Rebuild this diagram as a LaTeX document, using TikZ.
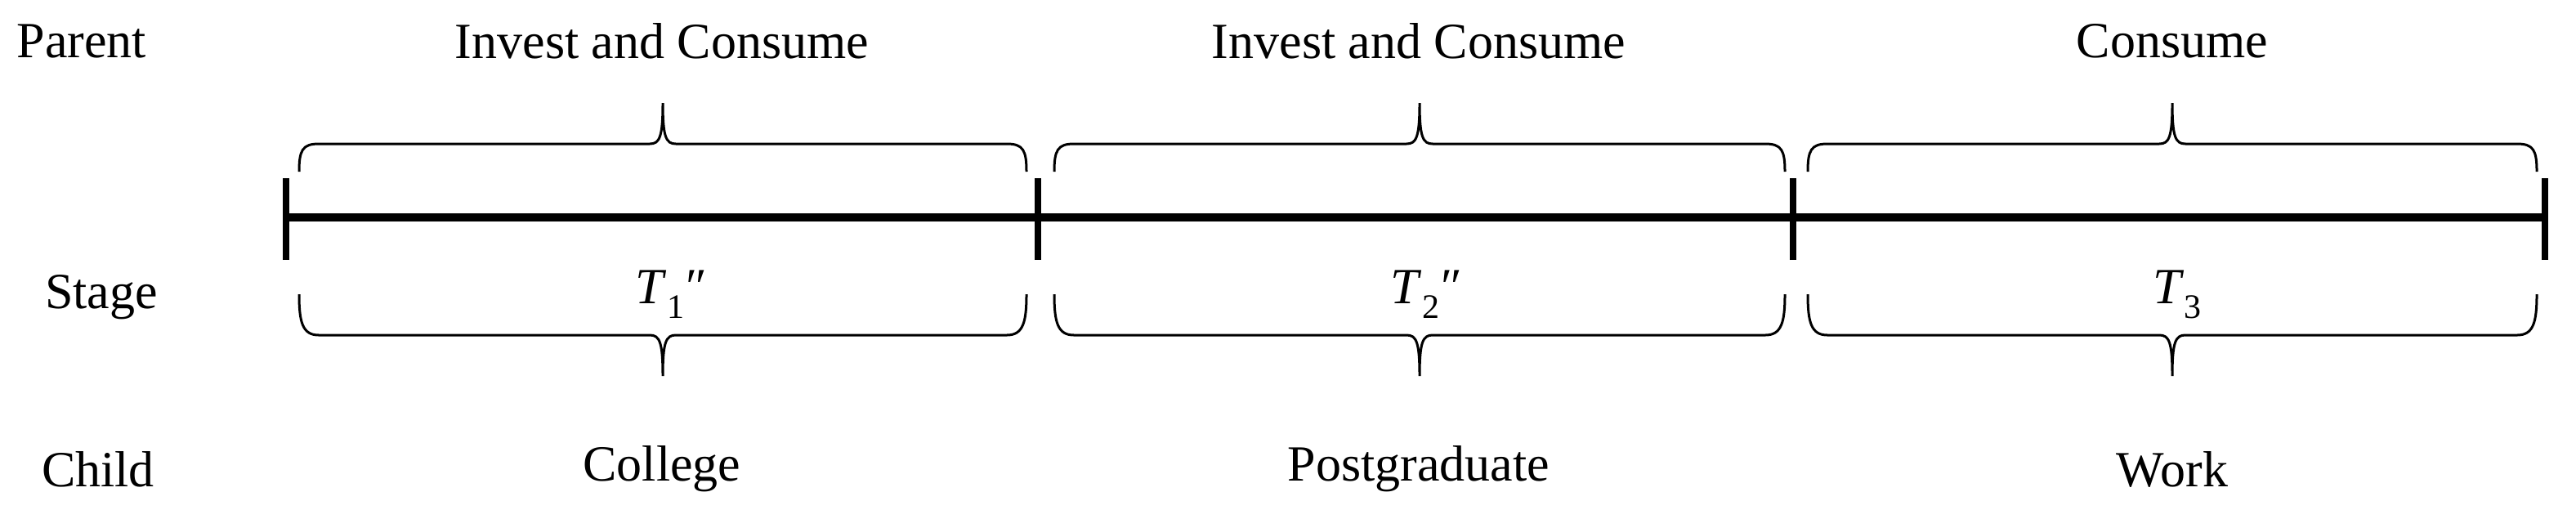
\documentclass[tikz,border=0pt]{standalone}
\usepackage{fontspec}
\setmainfont{Liberation Serif}
\begin{document}
\begin{tikzpicture}[x=1pt,y=-1pt,
  lbl/.style={font=\fontsize{31}{36}\selectfont, inner sep=0pt},
  brc/.style={line width=1.5pt},
  tick/.style={line width=4pt}]
\useasboundingbox (0,0) rectangle (1576,311.5);
\newcommand{\Tsym}[2]{\textit{T}\raisebox{-9pt}{\fontsize{21}{24}\selectfont #1}\hspace{-1pt}\raisebox{0pt}[0pt][0pt]{\kern-10pt\textit{#2}}}
\node[lbl] (p) at (50,25) {Parent};
\node[lbl] (s) at (62,182) {Stage};
\node[lbl] (c) at (60,287) {Child};
\coordinate (a) at (175,133);
\coordinate (b) at (635,133);
\coordinate (cc) at (1097,133);
\coordinate (d) at (1557,133);
\draw[line width=5pt] (a) -- (d);
\foreach \x in {a,b,cc,d} \draw[tick] ([yshift=-26pt]\x) -- ([yshift=24pt]\x);
\foreach \xa/\xb in {183/628, 645/1092, 1106/1552}{
  \pgfmathsetmacro{\xm}{(\xa+\xb)/2}
  \draw[brc] (\xa,105) .. controls (\xa,92) and (\xa+2,88) .. (\xa+12,88)
    -- (\xm-8,88) .. controls (\xm-2,88) and (\xm,84) .. (\xm,63)
    .. controls (\xm,84) and (\xm+2,88) .. (\xm+8,88)
    -- (\xb-12,88) .. controls (\xb-2,88) and (\xb,92) .. (\xb,105);
  \draw[brc] (\xa,180) .. controls (\xa,197) and (\xa+2,205) .. (\xa+12,205)
    -- (\xm-8,205) .. controls (\xm-2,205) and (\xm,209) .. (\xm,230)
    .. controls (\xm,209) and (\xm+2,205) .. (\xm+8,205)
    -- (\xb-12,205) .. controls (\xb-2,205) and (\xb,197) .. (\xb,180);
}
\node[lbl] (t1) at (405,25) {Invest and Consume};
\node[lbl] (t2) at (868,25) {Invest and Consume};
\node[lbl] (t3) at (1329,25) {Consume};
\node[lbl] (m1) at (410,180) {\Tsym{1}{\,\,\char"2033}};
\node[lbl] (m2) at (872,180) {\Tsym{2}{\,\,\char"2033}};
\node[lbl] (m3) at (1332,180) {\textit{T}\raisebox{-9pt}{\fontsize{21}{24}\selectfont 3}};
\node[lbl] (b1) at (405,287) {College};
\node[lbl] (b2) at (868,287) {Postgraduate};
\node[lbl] (b3) at (1329,287) {Work};
\end{tikzpicture}
\end{document}
